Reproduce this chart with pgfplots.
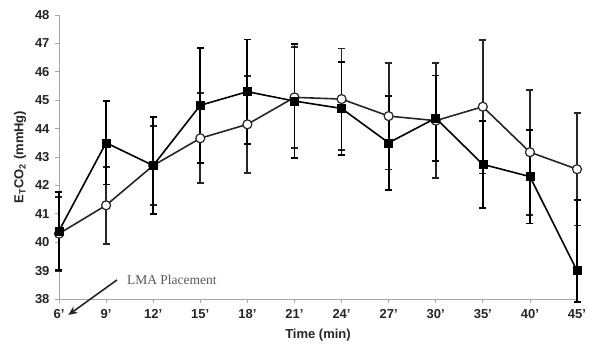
\documentclass[border=0pt]{standalone}
\usepackage{pgfplots}
\pgfplotsset{compat=1.18}
\usetikzlibrary{arrows.meta}
\usepackage{fontspec}
\setmainfont{Liberation Sans}
\newfontfamily\seriffont{Liberation Serif}
\begin{document}
\begin{tikzpicture}
\useasboundingbox (-59pt,-52pt) rectangle (530pt,299pt);
\begin{axis}[
  at={(0,0)}, anchor=south west,
  scale only axis, width=518pt, height=284pt,
  xmin=0, xmax=11, ymin=38, ymax=48,
  clip=false,
  axis x line=bottom, axis y line=left,
  axis line style={-, draw=gray!70, line width=0.8pt},
  xtick={0,...,11},
  xticklabels={6',9',12',15',18',21',24',27',30',35',40',45'},
  ytick={38,...,48},
  tick align=outside,
  major tick length=4pt,
  tick style={gray!70, line width=0.8pt},
  /pgf/number format/assume math mode=true,
  ticklabel style={font=\bfseries\fontsize{13}{15}\selectfont, text=black!85},
  yticklabel style={xshift=-2pt},
  xticklabel style={yshift=-3pt},
  xlabel={Time (min)},
  xlabel style={at={(axis description cs:0.5,-0.127)}, anchor=center, font=\bfseries\fontsize{13}{15}\selectfont, text=black!85},
  ylabel={E\textsubscript{T}CO\textsubscript{2} (mmHg)},
  ylabel style={at={(axis description cs:-0.075,0.5)}, anchor=center, rotate=0, font=\bfseries\fontsize{13}{15}\selectfont, text=black!85},
]
% open circles
\addplot[black!85, line width=1.6pt, mark=*, mark size=4.5pt,
  mark options={fill=white, line width=1.2pt},
  error bars/.cd, y dir=both, y explicit, error mark=-,
  error bar style={line width=1.8pt, black!85},
  error mark options={rotate=90, line width=1.8pt, mark size=3.5pt, black!85}]
  table[x=x, y=y, y error plus=ep, y error minus=em] {
x y ep em
0 40.30 1.30 1.30
1 41.30 1.35 1.35
2 42.70 1.40 1.40
3 43.66 1.58 1.58
4 44.15 1.70 1.70
5 45.10 1.78 1.78
6 45.04 1.78 1.78
7 44.44 1.88 1.88
8 44.28 2.03 2.03
9 44.77 2.35 2.35
10 43.17 2.20 2.20
11 42.57 1.98 1.98
};
% filled squares
\addplot[black, line width=1.6pt, mark=square*, mark size=4pt,
  mark options={fill=black, line width=0.5pt},
  error bars/.cd, y dir=both, y explicit, error mark=-,
  error bar style={line width=1.8pt, black},
  error mark options={rotate=90, line width=1.8pt, mark size=3.5pt, black}]
  table[x=x, y=y, y error plus=ep, y error minus=em] {
x y ep em
0 40.40 1.37 1.37
1 43.50 1.47 1.47
2 42.70 1.70 1.70
3 44.82 2.03 2.03
4 45.30 1.84 1.84
5 44.97 2.00 2.00
6 44.71 1.63 1.63
7 43.50 1.65 1.65
8 44.37 1.50 1.50
9 42.74 1.53 1.53
10 42.31 1.65 1.65
11 39.00 2.50 1.10
};
\coordinate (arrS) at (axis cs:1.23,38.67);
\coordinate (arrE) at (axis cs:0.20,37.44);
\coordinate (txt) at (axis cs:1.44,38.67);
\end{axis}
\draw[-{Stealth[length=9pt,width=8pt]}, line width=1.6pt, black!85] (arrS) -- (arrE);
\node[anchor=west, inner sep=0pt, font=\seriffont\fontsize{13.5}{16}\selectfont, text=black!65] at (txt) {LMA Placement};
\end{tikzpicture}
\end{document}
